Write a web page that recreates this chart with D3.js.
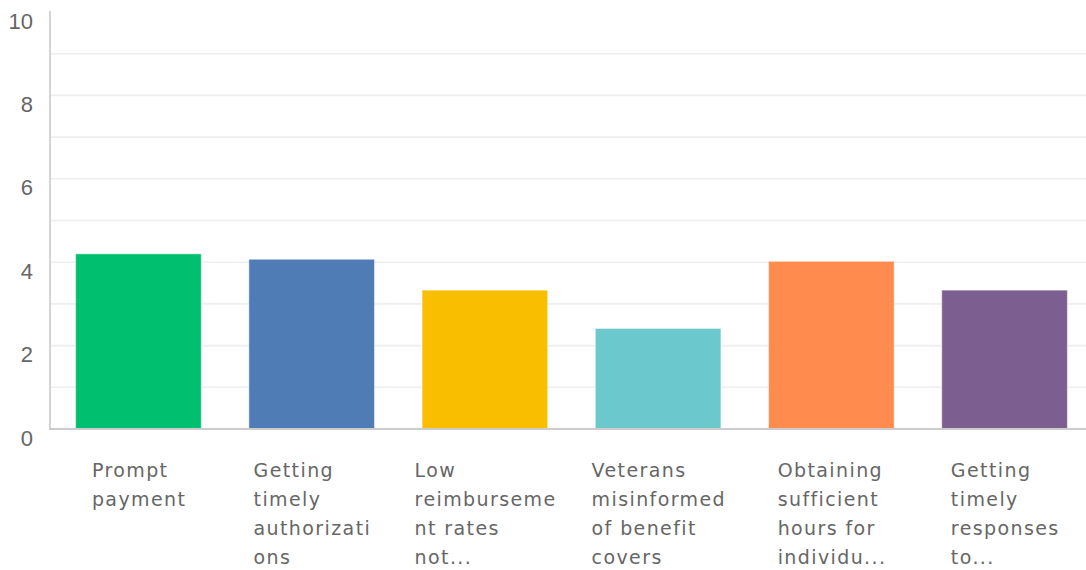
<!DOCTYPE html>
<html>
<head>
<meta charset="utf-8">
<script src="https://cdn.jsdelivr.net/npm/d3@7"></script>
<style>
  html, body { margin: 0; padding: 0; background: #ffffff; }
  svg { display: block; }
</style>
</head>
<body>
<svg id="chart" width="1086" height="570"></svg>
<script>
const categories = [
  ["Prompt", "payment"],
  ["Getting", "timely", "authorizati", "ons"],
  ["Low", "reimburseme", "nt rates", "not..."],
  ["Veterans", "misinformed", "of benefit", "covers"],
  ["Obtaining", "sufficient", "hours for", "individu..."],
  ["Getting", "timely", "responses", "to..."]
];
const values = [4.20, 4.07, 3.33, 2.41, 4.02, 3.33];
const barColors = ["#00BF6F", "#507CB6", "#F9BE00", "#6BC8CD", "#FF8B4F", "#7D5E90"];
const yTickLabels = [0, 2, 4, 6, 8, 10];
const gridValues = [1, 2, 3, 4, 5, 6, 7, 8, 9];

const svg = d3.select("#chart");
const x = d3.scaleBand()
  .domain(d3.range(categories.length))
  .range([50, 1093])
  .paddingInner(0.275)
  .paddingOuter(0.148);
const y = d3.scaleLinear().domain([0, 10]).range([429, 12]);

// gridlines
svg.append("g").selectAll("line").data(gridValues).join("line")
  .attr("x1", 50).attr("x2", 1086)
  .attr("y1", d => y(d)).attr("y2", d => y(d))
  .attr("stroke", "#eeeeee").attr("stroke-width", 1.6);

// bars
svg.append("g").selectAll("rect").data(values).join("rect")
  .attr("x", (d, i) => x(i))
  .attr("width", x.bandwidth())
  .attr("y", d => y(d))
  .attr("height", d => y(0) - y(d))
  .attr("fill", (d, i) => barColors[i])
  .attr("stroke", "rgba(255,255,255,0.45)")
  .attr("stroke-width", 1);

// axis lines
svg.append("line").attr("x1", 50).attr("x2", 50).attr("y1", y(10) - 1).attr("y2", y(0) + 1)
  .attr("stroke", "#d4d4d4").attr("stroke-width", 2);
svg.append("line").attr("x1", 49).attr("x2", 1086).attr("y1", y(0)).attr("y2", y(0))
  .attr("stroke", "#cccccc").attr("stroke-width", 2);

// y tick labels
svg.append("g").selectAll("text").data(yTickLabels).join("text")
  .attr("x", 33).attr("y", d => y(d) + 16.5)
  .attr("text-anchor", "end")
  .attr("font-family", "'Liberation Sans', Arial, sans-serif")
  .attr("font-size", 22)
  .attr("fill", "#666666")
  .text(d => d);

// category labels
const labelG = svg.append("g");
categories.forEach((lines, i) => {
  const g = labelG.append("g");
  const texts = lines.map((ln, j) => g.append("text")
    .attr("x", 0).attr("y", 476.5 + j * 29.3)
    .attr("font-family", "'DejaVu Sans', sans-serif")
    .attr("font-size", 19)
    .attr("letter-spacing", 1.4)
    .attr("fill", "#666666")
    .text(ln));
  const maxW = d3.max(texts, t => t.node().getComputedTextLength()) - 1.4;
  const cx = x(i) + x.bandwidth() / 2;
  g.attr("transform", `translate(${cx - maxW / 2},0)`);
});
</script>
</body>
</html>
